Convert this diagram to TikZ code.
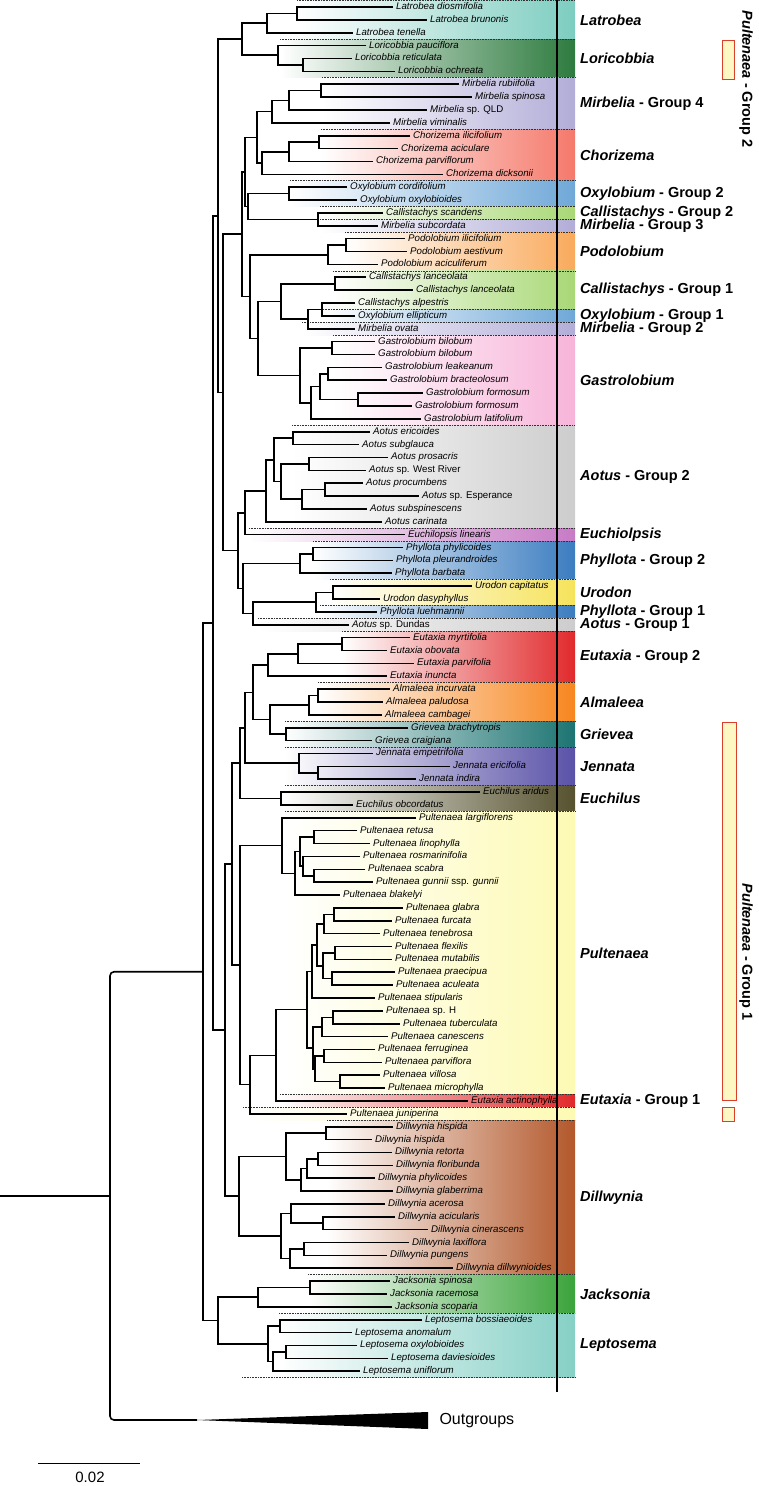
\documentclass[tikz,border=0pt]{standalone}
\usepackage{fontspec}
\setmainfont{Liberation Sans}
\usetikzlibrary{calc}

\definecolor{latc}{HTML}{7DCDC0}
\definecolor{loric}{HTML}{2E7B3F}
\definecolor{mirbc}{HTML}{B2ADD8}
\definecolor{chorc}{HTML}{F5796B}
\definecolor{oxyc}{HTML}{6FA8D8}
\definecolor{callc}{HTML}{A9D876}
\definecolor{podoc}{HTML}{F9AA5C}
\definecolor{gastc}{HTML}{F7B4D9}
\definecolor{aotc}{HTML}{CDCDCD}
\definecolor{euclc}{HTML}{C77BC5}
\definecolor{phylc}{HTML}{3B7DC0}
\definecolor{urodc}{HTML}{F6E35C}
\definecolor{eutc}{HTML}{E12A2C}
\definecolor{almc}{HTML}{F7861F}
\definecolor{griec}{HTML}{1C7472}
\definecolor{jenc}{HTML}{5A52A8}
\definecolor{euchc}{HTML}{56522F}
\definecolor{pultc}{HTML}{FDFAB4}
\definecolor{dillc}{HTML}{B3582B}
\definecolor{jackc}{HTML}{3BA43B}
\definecolor{leptc}{HTML}{86D0C6}
\definecolor{grpred}{HTML}{D8402A}
\definecolor{grpyel}{HTML}{FDF7C4}

\tikzset{
  branch/.style={line width=1.6pt},
  leaf/.style={anchor=west, inner xsep=3pt, inner ysep=0pt, text height=7pt, text depth=2pt,
    font=\fontsize{9.7}{10}\selectfont\itshape},
  sep/.style={densely dotted, line width=0.6pt, black!80},
  cladelab/.style={anchor=west, inner sep=0pt, font=\fontsize{14.5}{15}\selectfont\bfseries},
  grpbox/.style={draw=grpred, fill=grpyel, line width=1pt},
  grplab/.style={rotate=-90, inner sep=0pt, font=\fontsize{14.5}{15}\selectfont\bfseries},
}

% leaf: name, row, tip x, text
\newcommand\leaf[4]{\node[leaf] (#1) at (#3,{7+12.87*(#2-1)}) {#4};}
% clade: name, x, first child, second child
\newcommand\clade[4]{%
  \path let \p1=(#3), \p2=(#4) in coordinate (#1) at ({#2pt},{(\y1+\y2)/2});
  \draw[branch] (#3) -| (#1) |- (#4);}
% band: name, first row, last row, colour, start of dotted line, label
\newcommand\band[6]{%
  \shade[left color=white, right color=#4] (#5,{12.87*#2-12.305}) rectangle (575,{12.87*#3+0.565});
  \draw[sep] (#5,{12.87*#2-12.305}) -- (575,{12.87*#2-12.305});
  \node[cladelab] (#1) at (580,{6.435*(#2+#3)-5.87}) {#6};}

\begin{document}
\begin{tikzpicture}[x=1pt,y=-1pt]
\useasboundingbox (0,0) rectangle (758,1486);

\band{blat}{1}{3}{latc}{297}{\textit{Latrobea}}
\band{blor}{4}{6}{loric}{280}{\textit{Loricobbia}}
\band{bmir4}{7}{10}{mirbc}{322}{\textit{Mirbelia} - Group 4}
\band{bcho}{11}{14}{chorc}{321}{\textit{Chorizema}}
\band{boxy2}{15}{16}{oxyc}{290}{\textit{Oxylobium} - Group 2}
\band{bcal2}{17}{17}{callc}{320}{\textit{Callistachys} - Group 2}
\band{bmir3}{18}{18}{mirbc}{320}{\textit{Mirbelia} - Group 3}
\band{bpod}{19}{21}{podoc}{345}{\textit{Podolobium}}
\band{bcal1}{22}{24}{callc}{333}{\textit{Callistachys} - Group 1}
\band{boxy1}{25}{25}{oxyc}{323}{\textit{Oxylobium} - Group 1}
\band{bmir2}{26}{26}{mirbc}{302}{\textit{Mirbelia} - Group 2}
\band{bgas}{27}{33}{gastc}{333}{\textit{Gastrolobium}}
\band{baot2}{34}{41}{aotc}{292}{\textit{Aotus} - Group 2}
\band{bepl}{42}{42}{euclc}{249}{\textit{Euchiolpsis}}
\band{bphy2}{43}{45}{phylc}{313}{\textit{Phyllota} - Group 2}
\band{buro}{46}{47}{urodc}{330}{\textit{Urodon}}
\band{bphy1}{48}{48}{phylc}{320}{\textit{Phyllota} - Group 1}
\band{baot1}{49}{49}{aotc}{258}{\textit{Aotus} - Group 1}
\band{beut2}{50}{53}{eutc}{342}{\textit{Eutaxia} - Group 2}
\band{balm}{54}{56}{almc}{318}{\textit{Almaleea}}
\band{bgri}{57}{58}{griec}{285}{\textit{Grievea}}
\band{bjen}{59}{61}{jenc}{285}{\textit{Jennata}}
\band{bech}{62}{63}{euchc}{285}{\textit{Euchilus}}
\band{bpul}{64}{85}{pultc}{285}{\textit{Pultenaea}}
\band{beut1}{86}{86}{eutc}{280}{\textit{Eutaxia} - Group 1}
\shade[left color=white, right color=pultc] (243,{12.87*87-12.305}) rectangle (575,{12.87*87+0.565});
\draw[sep] (243,{12.87*87-12.305}) -- (575,{12.87*87-12.305});
\band{bdil}{88}{99}{dillc}{327}{\textit{Dillwynia}}
\band{bjac}{100}{102}{jackc}{308}{\textit{Jacksonia}}
\band{blep}{103}{107}{leptc}{279}{\textit{Leptosema}}
\draw[sep] (242,{12.87*107+0.565}) -- (575,{12.87*107+0.565});

\draw[line width=1.6pt] (557,0) -- (557,1392);

\leaf{l1}{1}{393}{Latrobea diosmifolia}
\leaf{l2}{2}{427}{Latrobea brunonis}
\leaf{l3}{3}{353}{Latrobea tenella}
\leaf{l4}{4}{366}{Loricobbia pauciflora}
\leaf{l5}{5}{352}{Loricobbia reticulata}
\leaf{l6}{6}{395}{Loricobbia ochreata}
\leaf{l7}{7}{459}{Mirbelia rubiifolia}
\leaf{l8}{8}{472}{Mirbelia spinosa}
\leaf{l9}{9}{427}{Mirbelia \textup{sp. QLD}}
\leaf{l10}{10}{390}{Mirbelia viminalis}
\leaf{l11}{11}{410}{Chorizema ilicifolium}
\leaf{l12}{12}{398}{Chorizema aciculare}
\leaf{l13}{13}{373}{Chorizema parviflorum}
\leaf{l14}{14}{443}{Chorizema dicksonii}
\leaf{l15}{15}{347}{Oxylobium cordifolium}
\leaf{l16}{16}{357}{Oxylobium oxylobioides}
\leaf{l17}{17}{383}{Callistachys scandens}
\leaf{l18}{18}{378}{Mirbelia subcordata}
\leaf{l19}{19}{405}{Podolobium ilicifolium}
\leaf{l20}{20}{407}{Podolobium aestivum}
\leaf{l21}{21}{378}{Podolobium aciculiferum}
\leaf{l22}{22}{366}{Callistachys lanceolata}
\leaf{l23}{23}{413}{Callistachys lanceolata}
\leaf{l24}{24}{355}{Callistachys alpestris}
\leaf{l25}{25}{355}{Oxylobium ellipticum}
\leaf{l26}{26}{355}{Mirbelia ovata}
\leaf{l27}{27}{375}{Gastrolobium bilobum}
\leaf{l28}{28}{375}{Gastrolobium bilobum}
\leaf{l29}{29}{382}{Gastrolobium leakeanum}
\leaf{l30}{30}{387}{Gastrolobium bracteolosum}
\leaf{l31}{31}{423}{Gastrolobium formosum}
\leaf{l32}{32}{412}{Gastrolobium formosum}
\leaf{l33}{33}{421}{Gastrolobium latifolium}
\leaf{l34}{34}{370}{Aotus ericoides}
\leaf{l35}{35}{359}{Aotus subglauca}
\leaf{l36}{36}{388}{Aotus prosacris}
\leaf{l37}{37}{366}{Aotus \textup{sp. West River}}
\leaf{l38}{38}{363}{Aotus procumbens}
\leaf{l39}{39}{419}{Aotus \textup{sp. Esperance}}
\leaf{l40}{40}{367}{Aotus subspinescens}
\leaf{l41}{41}{382}{Aotus carinata}
\leaf{l42}{42}{405}{Euchilopsis linearis}
\leaf{l43}{43}{403}{Phyllota phylicoides}
\leaf{l44}{44}{393}{Phyllota pleurandroides}
\leaf{l45}{45}{392}{Phyllota barbata}
\leaf{l46}{46}{472}{Urodon capitatus}
\leaf{l47}{47}{380}{Urodon dasyphyllus}
\leaf{l48}{48}{377}{Phyllota luehmannii}
\leaf{l49}{49}{349}{Aotus \textup{sp. Dundas}}
\leaf{l50}{50}{410}{Eutaxia myrtifolia}
\leaf{l51}{51}{387}{Eutaxia obovata}
\leaf{l52}{52}{414}{Eutaxia parvifolia}
\leaf{l53}{53}{387}{Eutaxia inuncta}
\leaf{l54}{54}{390}{Almaleea incurvata}
\leaf{l55}{55}{383}{Almaleea paludosa}
\leaf{l56}{56}{382}{Almaleea cambagei}
\leaf{l57}{57}{408}{Grievea brachytropis}
\leaf{l58}{58}{372}{Grievea craigiana}
\leaf{l59}{59}{373}{Jennata empetrifolia}
\leaf{l60}{60}{450}{Jennata ericifolia}
\leaf{l61}{61}{416}{Jennata indira}
\leaf{l62}{62}{480}{Euchilus aridus}
\leaf{l63}{63}{353}{Euchilus obcordatus}
\leaf{l64}{64}{416}{Pultenaea largiflorens}
\leaf{l65}{65}{357}{Pultenaea retusa}
\leaf{l66}{66}{370}{Pultenaea linophylla}
\leaf{l67}{67}{360}{Pultenaea rosmarinifolia}
\leaf{l68}{68}{365}{Pultenaea scabra}
\leaf{l69}{69}{373}{Pultenaea gunnii \textup{ssp.} gunnii}
\leaf{l70}{70}{340}{Pultenaea blakelyi}
\leaf{l71}{71}{403}{Pultenaea glabra}
\leaf{l72}{72}{392}{Pultenaea furcata}
\leaf{l73}{73}{380}{Pultenaea tenebrosa}
\leaf{l74}{74}{392}{Pultenaea flexilis}
\leaf{l75}{75}{392}{Pultenaea mutabilis}
\leaf{l76}{76}{395}{Pultenaea praecipua}
\leaf{l77}{77}{393}{Pultenaea aculeata}
\leaf{l78}{78}{375}{Pultenaea stipularis}
\leaf{l79}{79}{383}{Pultenaea \textup{sp. H}}
\leaf{l80}{80}{400}{Pultenaea tuberculata}
\leaf{l81}{81}{388}{Pultenaea canescens}
\leaf{l82}{82}{375}{Pultenaea ferruginea}
\leaf{l83}{83}{382}{Pultenaea parviflora}
\leaf{l84}{84}{380}{Pultenaea villosa}
\leaf{l85}{85}{385}{Pultenaea microphylla}
\leaf{l86}{86}{468}{Eutaxia actinophylla}
\leaf{l87}{87}{347}{Pultenaea juniperina}
\leaf{l88}{88}{393}{Dillwynia hispida}
\leaf{l89}{89}{372}{Dilwynia hispida}
\leaf{l90}{90}{392}{Dillwynia retorta}
\leaf{l91}{91}{393}{Dillwynia floribunda}
\leaf{l92}{92}{375}{Dillwynia phylicoides}
\leaf{l93}{93}{393}{Dillwynia glaberrima}
\leaf{l94}{94}{385}{Dillwynia acerosa}
\leaf{l95}{95}{395}{Dillwynia acicularis}
\leaf{l96}{96}{428}{Dillwynia cinerascens}
\leaf{l97}{97}{409}{Dillwynia laxiflora}
\leaf{l98}{98}{387}{Dillwynia pungens}
\leaf{l99}{99}{453}{Dillwynia dillwynioides}
\leaf{l100}{100}{390}{Jacksonia spinosa}
\leaf{l101}{101}{387}{Jacksonia racemosa}
\leaf{l102}{102}{392}{Jacksonia scoparia}
\leaf{l103}{103}{422}{Leptosema bossiaeoides}
\leaf{l104}{104}{352}{Leptosema anomalum}
\leaf{l105}{105}{357}{Leptosema oxylobioides}
\leaf{l106}{106}{388}{Leptosema daviesioides}
\leaf{l107}{107}{360}{Leptosema uniflorum}

% Latrobea to Gastrolobium
\clade{c12}{297}{l1.west}{l2.west}
\clade{latro}{267}{c12}{l3.west}
\clade{c56}{303}{l5.west}{l6.west}
\clade{lori}{278}{l4.west}{c56}
\clade{latlor}{242}{latro}{lori}
\clade{c78}{321}{l7.west}{l8.west}
\clade{c79}{289}{c78}{l9.west}
\clade{mirb4}{272}{c79}{l10.west}
\clade{c1112}{319}{l11.west}{l12.west}
\clade{c1113}{289}{c1112}{l13.west}
\clade{chor}{262}{c1113}{l14.west}
\clade{m4ch}{257}{mirb4}{chor}
\clade{oxy2}{289}{l15.west}{l16.west}
\clade{calmir}{318}{l17.west}{l18.west}
\clade{oxycal}{248}{oxy2}{calmir}
\clade{mo}{245}{m4ch}{oxycal}
\clade{c1920}{346}{l19.west}{l20.west}
\clade{podo}{328}{c1920}{l21.west}
\clade{c2223}{335}{l22.west}{l23.west}
\clade{c2425}{322}{l24.west}{l25.west}
\clade{c2426}{308}{c2425}{l26.west}
\clade{call1}{281}{c2223}{c2426}
\clade{c2728}{332}{l27.west}{l28.west}
\clade{c2930}{328}{l29.west}{l30.west}
\clade{c3132}{358}{l31.west}{l32.west}
\clade{c2932}{320}{c2930}{c3132}
\clade{c2933}{311}{c2932}{l33.west}
\clade{gastro}{300}{c2728}{c2933}
\clade{cg}{258}{call1}{gastro}
\clade{podcg}{250}{podo}{cg}
\clade{upper}{242}{mo}{podcg}
% Aotus to Phyllota
\clade{c3435}{293}{l34.west}{l35.west}
\clade{c3637}{309}{l36.west}{l37.west}
\clade{c3839}{325}{l38.west}{l39.west}
\clade{c3840}{302}{c3839}{l40.west}
\clade{c3640}{281}{c3637}{c3840}
\clade{c3440}{274}{c3435}{c3640}
\clade{aotus2}{266}{c3440}{l41.west}
\clade{aoteup}{245}{aotus2}{l42.west}
\clade{c4344}{313}{l43.west}{l44.west}
\clade{phyl2}{300}{c4344}{l45.west}
\clade{urod}{333}{l46.west}{l47.west}
\clade{c4648}{316}{urod}{l48.west}
\clade{c4649}{253}{c4648}{l49.west}
\clade{phyurd}{243}{phyl2}{c4649}
\clade{aotphy}{238}{aoteup}{phyurd}
\clade{n223}{223}{upper}{aotphy}
\clade{n218}{218}{latlor}{n223}
% Eutaxia to Pultenaea
\clade{c5051}{342}{l50.west}{l51.west}
\clade{c5052}{298}{c5051}{l52.west}
\clade{eut2}{268}{c5052}{l53.west}
\clade{c5455}{318}{l54.west}{l55.west}
\clade{alm}{309}{c5455}{l56.west}
\clade{grie}{286}{l57.west}{l58.west}
\clade{almgri}{270}{alm}{grie}
\clade{eutalm}{253}{eut2}{almgri}
\clade{c6061}{318}{l60.west}{l61.west}
\clade{jen}{299}{l59.west}{c6061}
\clade{eutjen}{245}{eutalm}{jen}
\clade{euch}{281}{l62.west}{l63.west}
\clade{eutech}{240}{eutjen}{euch}
\clade{c6566}{314}{l65.west}{l66.west}
\clade{c6869}{314}{l68.west}{l69.west}
\clade{c6769}{303}{l67.west}{c6869}
\clade{c6569}{300}{c6566}{c6769}
\clade{c6570}{295}{c6569}{l70.west}
\clade{pult1}{282}{l64.west}{c6570}
\clade{c7172}{334}{l71.west}{l72.west}
\clade{c7173}{324}{c7172}{l73.west}
\clade{c7475}{335}{l74.west}{l75.west}
\clade{c7677}{332}{l76.west}{l77.west}
\clade{c7477}{323}{c7475}{c7677}
\clade{c7177}{317}{c7173}{c7477}
\clade{c7178}{312}{c7177}{l78.west}
\clade{c7980}{333}{l79.west}{l80.west}
\clade{c7981}{322}{c7980}{l81.west}
\clade{c8283}{324}{l82.west}{l83.west}
\clade{c8485}{340}{l84.west}{l85.west}
\clade{c8285}{315}{c8283}{c8485}
\clade{c7985}{313}{c7981}{c8285}
\clade{c7185}{307}{c7178}{c7985}
\clade{c7186}{276}{c7185}{l86.west}
\clade{pult2}{250}{c7186}{l87.west}
\clade{pult}{240}{pult1}{pult2}
\clade{n232}{232}{eutech}{pult}
% Dillwynia
\clade{c8889}{326}{l88.west}{l89.west}
\clade{c9091}{318}{l90.west}{l91.west}
\clade{c9092}{307}{c9091}{l92.west}
\clade{c9093}{301}{c9092}{l93.west}
\clade{c8893}{286}{c8889}{c9093}
\clade{c9596}{323}{l95.west}{l96.west}
\clade{c9496}{291}{l94.west}{c9596}
\clade{c9798}{304}{l97.west}{l98.west}
\clade{c9799}{290}{c9798}{l99.west}
\clade{c9499}{281}{c9496}{c9799}
\clade{dill}{239}{c8893}{c9499}
\clade{n225}{225}{n232}{dill}
\clade{n213}{213}{n218}{n225}
% Jacksonia and Leptosema
\clade{c100101}{310}{l100.west}{l101.west}
\clade{jack}{258}{c100101}{l102.west}
\clade{c103104}{280}{l103.west}{l104.west}
\clade{c105106}{286}{l105.west}{l106.west}
\clade{c105107}{273}{c105106}{l107.west}
\clade{lept}{268}{c103104}{c105107}
\clade{jaclep}{218}{jack}{lept}
\clade{n203}{203}{n213}{jaclep}

% root and outgroups
\coordinate (og) at (197,1420);
\coordinate (base) at (0,0);
\path let \p1=(n203), \p2=(og) in coordinate (root) at (110pt,{(\y1+\y2)/2});
\draw[branch, rounded corners=4pt] (n203) -| (root) |- (og);
\draw[branch] (root) -- (root -| base);
\fill (og) -- (428,1412) -- (428,1429) -- cycle;
\node[anchor=west, font=\fontsize{16}{18}\selectfont] (outlab) at (436,1421) {Outgroups};

% scale bar
\coordinate (sb0) at (38,1463);
\coordinate (sb1) at (140,1463);
\draw[line width=1pt] (sb0) -- (sb1);
\node[font=\fontsize{15}{16}\selectfont] (sblab) at (90,1477) {0.02};

% Pultenaea groups
\draw[grpbox] (722,40) rectangle (734,79);
\draw[grpbox] (722,722) rectangle (736,1100);
\draw[grpbox] (722,1107) rectangle (734,1121);
\node[grplab] (grp2) at (746,79) {\textit{Pultenaea} - Group 2};
\node[grplab] (grp1) at (746,952) {\textit{Pultenaea} - Group 1};
\end{tikzpicture}
\end{document}
